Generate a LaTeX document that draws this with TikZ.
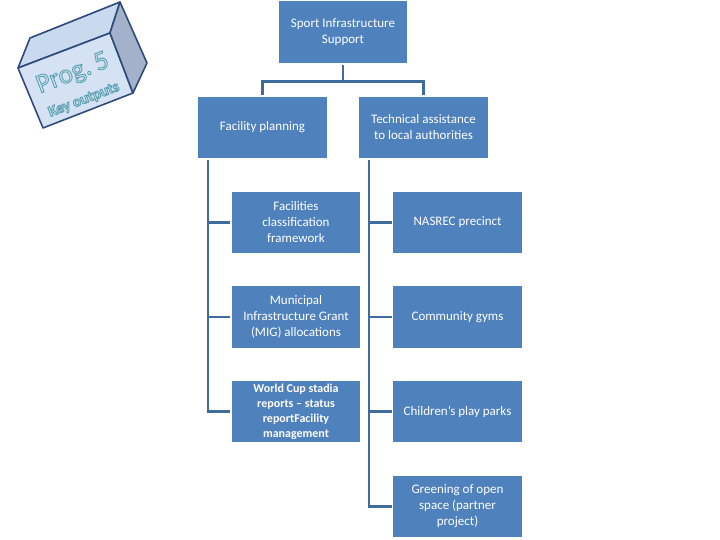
\documentclass[tikz,border=0pt]{standalone}
\usepackage{fontspec}
\setmainfont{Carlito}
\usetikzlibrary{positioning,calc}
\definecolor{Box}{HTML}{4F81BD}
\definecolor{Wire}{HTML}{3F6C9E}
\definecolor{CubeTop}{HTML}{C9D9EE}
\definecolor{CubeFront}{HTML}{D5E2F4}
\definecolor{CubeSide}{HTML}{A3B2CA}
\definecolor{CubeEdge}{HTML}{2E4B7B}
\definecolor{Glow}{HTML}{C8E6EE}
% outlined lettering on the badge
\newcommand\outlined[1]{\special{pdf:literal 2 Tr 0.9 w 0.37 0.62 0.70 RG}#1\special{pdf:literal 0 Tr}}
\tikzset{
 box/.style={draw=white,line width=1.2pt,fill=Box,text=white,align=center,font=\fontsize{13}{16}\selectfont,minimum width=130pt,minimum height=63pt,inner sep=2pt},
 boldbox/.style={box,font=\fontsize{12}{15}\selectfont\bfseries},
 wire/.style={draw=Wire,line width=2.2pt},
 face/.style={draw=CubeEdge,line width=1.6pt,line join=round},
 cubetext/.style={rotate=21,text=Glow,inner sep=0pt}
}
\begin{document}
\begin{tikzpicture}[x=1pt,y=-1pt]
\useasboundingbox (0,0) rectangle (720,540);
% badge
\filldraw[face,fill=CubeTop] (18,68) -- (30,38) -- (120,2) -- (110,33) -- cycle;
\filldraw[face,fill=CubeFront] (18,68) -- (110,33) -- (133,93) -- (43,128) -- cycle;
\filldraw[face,fill=CubeSide] (110,33) -- (120,2) -- (147,63) -- (133,93) -- cycle;
\node[cubetext,font=\fontsize{27}{27}\selectfont] (prog) at (73,74) {\outlined{Prog.\hspace{5pt}5}};
\node[cubetext,font=\fontsize{15}{15}\selectfont\bfseries] (keyout) at (84,100) {\outlined{Key outputs}};
% hierarchy
\node[box,minimum height=64pt] (sport) at (343,32) {Sport Infrastructure\\Support};
\node[box] (fplan) at (262.5,127.5) {Facility planning};
\node[box] (tech) at (423.5,127.5) {Technical assistance\\to local authorities};
\node[box] (fclass) at (296,222.5) {Facilities\\classification\\framework};
\node[box] (mig) at (296,317) {Municipal\\Infrastructure Grant\\(MIG) allocations};
\node[boldbox] (wcup) at (296,411.5) {World Cup stadia\\reports -- status\\reportFacility\\management};
\node[box] (nasrec) at (457.5,222.5) {NASREC precinct};
\node[box] (gyms) at (457.5,317) {Community gyms};
\node[box] (parks) at (457.5,411.5) {Children’s play parks};
\node[box] (green) at (457.5,506.5) {Greening of open\\space (partner\\project)};
\draw[wire] (sport.south) -- ++(0,17) -| (fplan.north);
\draw[wire] (sport.south) -- ++(0,17) -| (tech.north);
\foreach \kid in {fclass,mig,wcup}
 \draw[wire] ($(fplan.south west)+(11,0)$) |- (\kid.west);
\foreach \kid in {nasrec,gyms,parks,green}
 \draw[wire] ($(tech.south west)+(11,0)$) |- (\kid.west);
\end{tikzpicture}
\end{document}
